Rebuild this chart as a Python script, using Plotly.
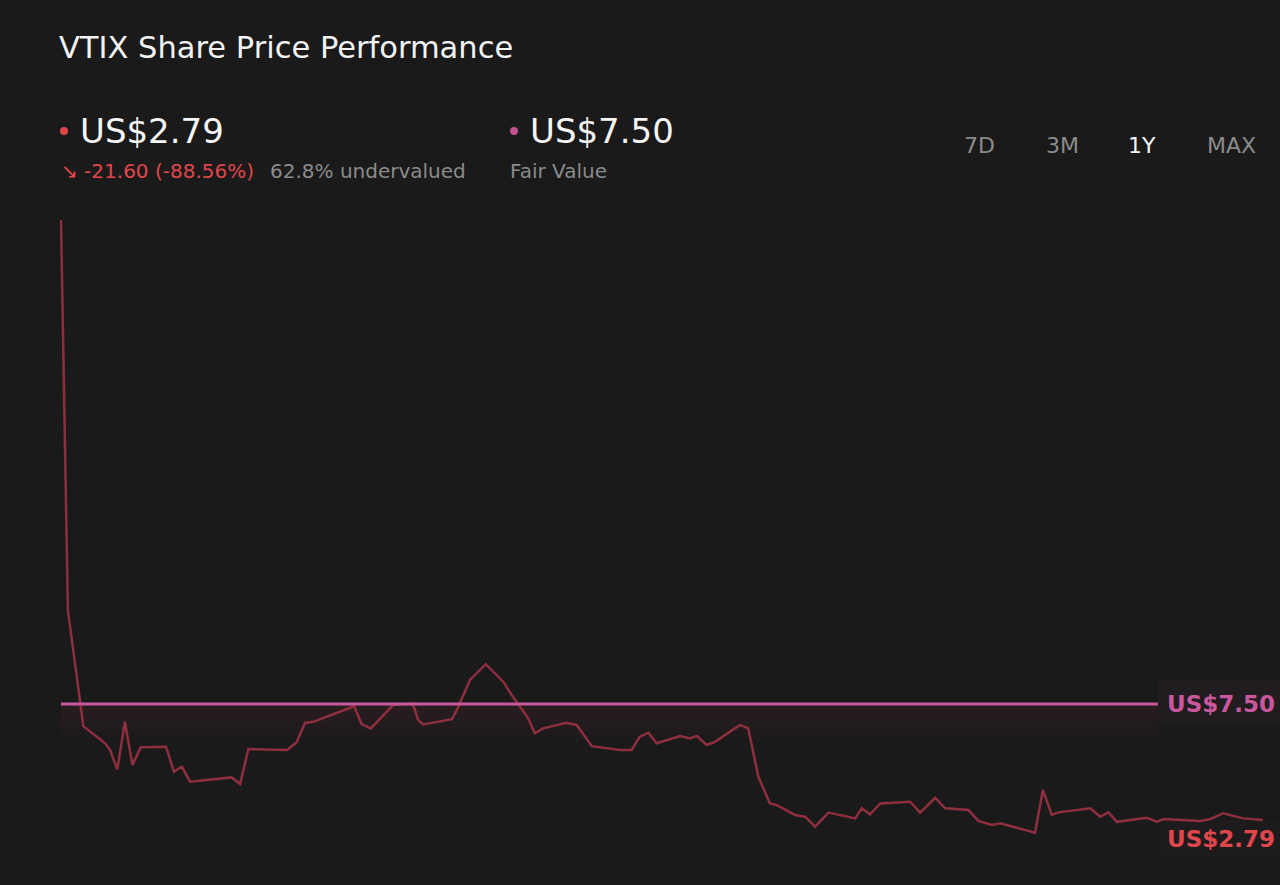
import plotly.graph_objects as go

# ---------------- data ----------------
days = [0, 2.1, 6.8, 13.4, 14.9, 17.1, 19.4, 21.7, 24.2, 31.9, 34.3, 36.7, 39.2, 51.8, 54.4,
        56.9, 68.7, 71.6, 74.1, 76.6, 84.7, 89.0, 91.3, 94.1, 100.9, 106.8, 108.5, 110.0,
        118.7, 120.2, 124.2, 129.0, 134.3, 136.9, 139.4, 141.9, 143.9, 146.4, 153.5, 156.6,
        161.2, 169.8, 173.3, 175.8, 178.4, 180.9, 188.0, 191.0, 193.1, 196.1, 198.6, 206.2,
        208.7, 211.8, 215.3, 217.3, 222.9, 226.0, 229.0, 233.1, 241.2, 243.2, 245.7, 248.8,
        257.9, 260.9, 265.5, 268.5, 275.6, 278.6, 282.7, 285.2, 295.8, 298.2, 300.9, 302.9,
        312.6, 315.6, 318.1, 320.7, 329.8, 332.8, 334.8, 345.9, 348.9, 353.0, 359.0, 365]
prices = [24.39, 10.78, 6.73, 6.13, 5.90, 5.22, 6.88, 5.37, 5.99, 6.01, 5.14, 5.31, 4.79, 4.94, 4.71,
          5.93, 5.90, 6.18, 6.84, 6.88, 7.23, 7.43, 6.80, 6.65, 7.47, 7.52, 6.94, 6.79,
          6.97, 7.29, 8.34, 8.89, 8.28, 7.81, 7.41, 7.00, 6.48, 6.65, 6.85, 6.77,
          6.03, 5.90, 5.90, 6.36, 6.50, 6.13, 6.38, 6.30, 6.39, 6.07, 6.18, 6.77,
          6.65, 4.96, 4.03, 3.98, 3.63, 3.57, 3.22, 3.71, 3.51, 3.86, 3.65, 4.03,
          4.09, 3.71, 4.23, 3.86, 3.80, 3.42, 3.28, 3.34, 3.01, 4.50, 3.63, 3.72,
          3.86, 3.57, 3.72, 3.39, 3.53, 3.39, 3.49, 3.42, 3.48, 3.69, 3.51, 3.45]

ticker = "VTIX"
current_price = 2.79
fair_value = 7.50
change_abs = -21.60
change_pct = -88.56
undervalued_pct = 62.8
fair_line_days = [0, 333.1]
periods = ["7D", "3M", "1Y", "MAX"]
active_period = "1Y"

# ---------------- layout helpers ----------------
W, H = 1280, 885
ML, MR, MT, MB = 60, 0, 200, 0
BG = "#1a1a1a"
FONT = "DejaVu Sans"
RED = "#e0474c"
PINK = "#c9579c"
GREY = "#8b8b8b"


def px_x(px):
    return (px - ML) / (W - ML - MR)


def px_y(py):
    return (H - MB - py) / (H - MT - MB)


fig = go.Figure()

# undervalued band under fair value line
fig.add_trace(go.Scatter(
    x=[fair_line_days[0], fair_line_days[1], fair_line_days[1], fair_line_days[0]],
    y=[fair_value, fair_value, fair_value - 1.4, fair_value - 1.4],
    fill="toself", mode="none",
    fillgradient=dict(type="vertical", start=fair_value, stop=fair_value - 1.4,
                      colorscale=[[0, "rgba(150,45,75,0.13)"], [1, "rgba(150,45,75,0.0)"]]),
    hoverinfo="skip", showlegend=False))

# price line
fig.add_trace(go.Scatter(x=days, y=prices, mode="lines",
                         line=dict(color="#8e2f3f", width=2.5),
                         hoverinfo="skip", showlegend=False))

# fair value line
fig.add_trace(go.Scatter(x=fair_line_days, y=[fair_value, fair_value], mode="lines",
                         line=dict(color=PINK, width=3),
                         hoverinfo="skip", showlegend=False))

shapes = [
    dict(type="rect", xref="paper", yref="y", x0=px_x(1158), x1=1.0,
         y0=fair_value - 0.70, y1=fair_value + 0.80, fillcolor="#201c1f",
         line=dict(width=0), layer="below"),
    dict(type="rect", xref="paper", yref="y", x0=px_x(1158), x1=1.0,
         y0=current_price - 0.60, y1=current_price + 0.63, fillcolor="#1e1b1c",
         line=dict(width=0), layer="below"),
    dict(type="circle", xref="paper", yref="paper", xsizemode="pixel", ysizemode="pixel",
         xanchor=px_x(64), yanchor=px_y(131), x0=-4, x1=4, y0=-4, y1=4,
         fillcolor=RED, line=dict(width=0)),
    dict(type="circle", xref="paper", yref="paper", xsizemode="pixel", ysizemode="pixel",
         xanchor=px_x(514), yanchor=px_y(131), x0=-4, x1=4, y0=-4, y1=4,
         fillcolor="#c2528e", line=dict(width=0)),
]

ann = []


def text(s, x, y, size, color, xanchor="left", bold=False):
    ann.append(dict(text=(f"<b>{s}</b>" if bold else s), x=px_x(x), y=px_y(y),
                    xref="paper", yref="paper", xanchor=xanchor, yanchor="middle",
                    showarrow=False, font=dict(family=FONT, size=size, color=color)))


text(f"{ticker} Share Price Performance", 57, 47, 30.5, "#f2f2f2")
text(f"US${current_price:.2f}", 78, 131, 34, "#f5f5f5")
text(f"↘ {change_abs:.2f} ({change_pct:.2f}%)", 59, 171, 20, RED)
text(f"{undervalued_pct:.1f}% undervalued", 268, 171, 20, GREY)
text(f"US${fair_value:.2f}", 528, 131, 34, "#f5f5f5")
text("Fair Value", 508, 171, 20, GREY)

btn_x = [980, 1062, 1142, 1231]
for p, bx in zip(periods, btn_x):
    text(p, bx, 145, 22, "#f5f5f5" if p == active_period else GREY, xanchor="center")

# right-hand value labels
ann.append(dict(text=f"<b>US${fair_value:.2f}</b>", x=px_x(1165), y=fair_value,
                xref="paper", yref="y", xanchor="left", yanchor="middle", showarrow=False,
                font=dict(family=FONT, size=23, color=PINK)))
ann.append(dict(text=f"<b>US${current_price:.2f}</b>", x=px_x(1165), y=current_price,
                xref="paper", yref="y", xanchor="left", yanchor="middle", showarrow=False,
                font=dict(family=FONT, size=23, color=RED)))

fig.update_layout(
    width=W, height=H,
    margin=dict(l=ML, r=MR, t=MT, b=MB),
    paper_bgcolor=BG, plot_bgcolor=BG,
    xaxis=dict(visible=False, range=[-0.3, 370.2], fixedrange=True),
    yaxis=dict(visible=False, range=[1.185, 25.09], fixedrange=True),
    shapes=shapes, annotations=ann, showlegend=False, hovermode=False,
)

fig.write_html("out.html", config={"displayModeBar": False},
               post_script="document.body.style.margin='0';document.body.style.overflow='hidden';"
                           "document.body.style.background='#1a1a1a';")
